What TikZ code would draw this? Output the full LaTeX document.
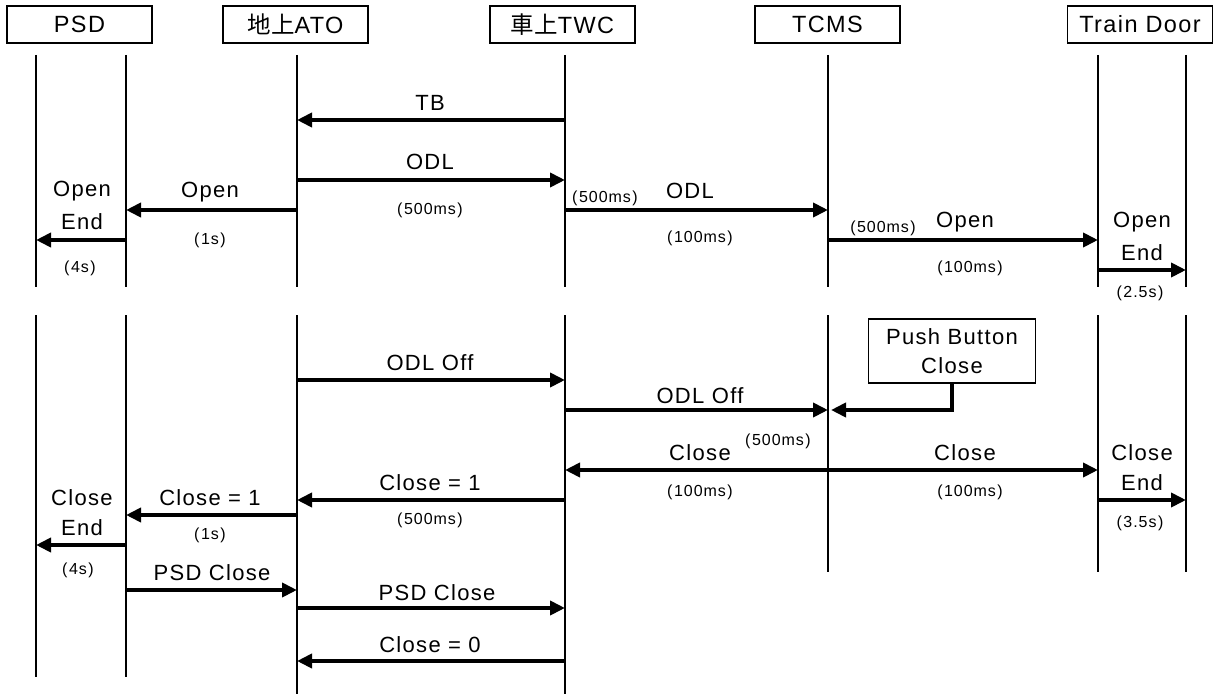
\documentclass[tikz,border=0pt]{standalone}
\usepackage{fontspec}
\setmainfont{Liberation Sans}[LetterSpace=6]
\newfontfamily\cjk{Noto Sans CJK KR}
\usetikzlibrary{arrows.meta,calc}
\newcommand\mymsg[4][]{\draw[msg,#1] ($(#2)+(0,#4)$) -- ($(#3)+(0,#4)$);}
\newcommand\dur[1]{(\kern1.5pt#1\kern1.5pt)}
\begin{document}
\begin{tikzpicture}[x=1pt,y=-1pt,
  head/.style={draw,line width=1.2pt,minimum width=145pt,minimum height=37pt,inner sep=0pt,font=\fontsize{23.5}{27}\selectfont},
  life/.style={line width=1.2pt},
  msg/.style={line width=3.8pt,-{Triangle[length=15pt,width=14pt]}},
  dmsg/.style={line width=3.8pt,{Triangle[length=15pt,width=14pt]}-{Triangle[length=15pt,width=14pt]}},
  lbl/.style={inner sep=0pt,font=\fontsize{22}{26}\selectfont},
  sml/.style={inner sep=0pt,font=\fontsize{16}{19}\selectfont}]
\useasboundingbox (0,0) rectangle (1218,698);
% lifeline anchors
\coordinate (psdL) at (36,0);
\coordinate (psdR) at (126,0);
\coordinate (ato) at (297,0);
\coordinate (twc) at (565,0);
\coordinate (tcms) at (828,0);
\coordinate (tdL) at (1098,0);
\coordinate (tdR) at (1186,0);
% headers
\node[head] (hpsd) at (79.5,24.5) {PSD};
\node[head] (hato) at (295.5,24.5) {{\cjk 地上}ATO};
\node[head] (htwc) at (562.5,24.5) {{\cjk 車上}TWC};
\node[head] (htcms) at (827.5,24.5) {TCMS};
\node[head] (htd) at (1140,24.5) {Train Door};
% lifelines upper
\foreach \c in {psdL,psdR,ato,twc,tcms,tdL,tdR}
  \draw[life] ($(\c)+(0,55)$) -- ($(\c)+(0,287)$);
% lifelines lower
\foreach \c in {psdL,psdR}
  \draw[life] ($(\c)+(0,315)$) -- ($(\c)+(0,677)$);
\foreach \c in {ato,twc}
  \draw[life] ($(\c)+(0,315)$) -- ($(\c)+(0,694)$);
\foreach \c in {tcms,tdL,tdR}
  \draw[life] ($(\c)+(0,315)$) -- ($(\c)+(0,572)$);
% ---- upper messages
\mymsg{twc}{ato}{120}
\node[lbl] (lTB) at (430,103) {TB};
\mymsg{ato}{twc}{180}
\node[lbl] (lODL1) at (430,162) {ODL};
\node[sml] (d1) at (430,210) {\dur{500ms}};
\mymsg{ato}{psdR}{210}
\node[lbl] (lOpen1) at (210,192) {Open};
\node[sml] (d2) at (210,240) {\dur{1s}};
\mymsg{psdR}{psdL}{240}
\node[lbl] (lOE1) at (82,191) {Open};
\node[lbl] (lOE2) at (82,222) {End};
\node[sml] (d3) at (80,268) {\dur{4s}};
\mymsg{twc}{tcms}{210}
\node[sml] (d4) at (605,198) {\dur{500ms}};
\node[lbl] (lODL2) at (690,191) {ODL};
\node[sml] (d5) at (700,238) {\dur{100ms}};
\mymsg{tcms}{tdL}{240}
\node[sml] (d6) at (883,228) {\dur{500ms}};
\node[lbl] (lOpen2) at (965,222) {Open};
\node[sml] (d7) at (970,268) {\dur{100ms}};
\mymsg{tdL}{tdR}{270}
\node[lbl] (lOE3) at (1142,222) {Open};
\node[lbl] (lOE4) at (1142,253) {End};
\node[sml] (d8) at (1140,293) {\dur{2.5s}};
% ---- lower messages
\node[draw,line width=1.2pt,minimum width=167pt,minimum height=64pt,inner sep=0pt,align=center,font=\fontsize{22}{29}\selectfont] (pb) at (952,351) {Push Button\\Close};
\mymsg{ato}{twc}{380}
\node[lbl] (lOff1) at (430,363) {ODL Off};
\mymsg{twc}{tcms}{410}
\node[lbl] (lOff2) at (700,396) {ODL Off};
\draw[msg] (pb.south) |- ($(tcms)+(3,410)$);
\node[sml] (d9) at (778,441) {\dur{500ms}};
\draw[dmsg] ($(twc)+(0,470)$) -- ($(tdL)+(0,470)$);
\node[lbl] (lC1) at (700,453) {Close};
\node[sml] (d10) at (700,492) {\dur{100ms}};
\node[lbl] (lC2) at (965,453) {Close};
\node[sml] (d11) at (970,492) {\dur{100ms}};
\mymsg{tdL}{tdR}{500}
\node[lbl] (lCE1) at (1142,453) {Close};
\node[lbl] (lCE2) at (1142,483) {End};
\node[sml] (d12) at (1140,523) {\dur{3.5s}};
\mymsg{twc}{ato}{500}
\node[lbl] (lC3) at (430,483) {Close = 1};
\node[sml] (d13) at (430,520) {\dur{500ms}};
\mymsg{ato}{psdR}{515}
\node[lbl] (lC4) at (210,498) {Close = 1};
\node[sml] (d14) at (210,535) {\dur{1s}};
\mymsg{psdR}{psdL}{545}
\node[lbl] (lCE3) at (82,498) {Close};
\node[lbl] (lCE4) at (82,528) {End};
\node[sml] (d15) at (78,570) {\dur{4s}};
\mymsg{psdR}{ato}{590}
\node[lbl] (lP1) at (212,573) {PSD Close};
\mymsg{ato}{twc}{608}
\node[lbl] (lP2) at (437,593) {PSD Close};
\mymsg{twc}{ato}{661}
\node[lbl] (lC5) at (430,645) {Close = 0};
\end{tikzpicture}
\end{document}
